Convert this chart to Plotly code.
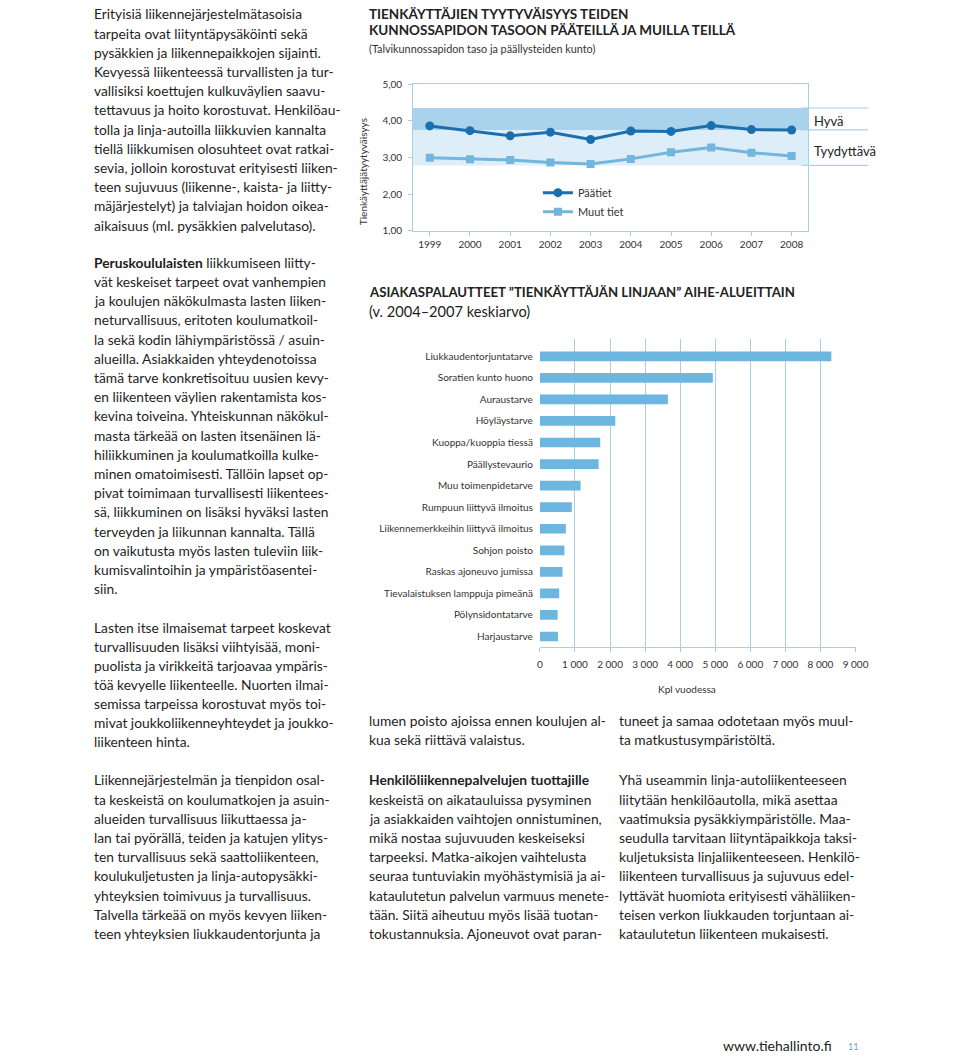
import plotly.graph_objects as go

W, H = 960, 1059
def px(x): return x / W
def py(y): return 1 - y / H

FONT = "Lato"
TXT = "#1e1e1e"

# ---------------- data: line chart ----------------
years = [1999, 2000, 2001, 2002, 2003, 2004, 2005, 2006, 2007, 2008]
paatiet = [3.86, 3.73, 3.59, 3.69, 3.49, 3.72, 3.71, 3.87, 3.76, 3.75]
muut_tiet = [2.99, 2.95, 2.93, 2.86, 2.82, 2.96, 3.14, 3.27, 3.13, 3.04]
y_ticks = [1, 2, 3, 4, 5]
y_ticktext = ["1,00", "2,00", "3,00", "4,00", "5,00"]
band_hyva = (3.75, 4.35)
band_tyyd = (2.78, 3.75)

# ---------------- data: bar chart ----------------
categories = [
    "Liukkaudentorjuntatarve", "Soratien kunto huono", "Auraustarve", "Höyläystarve",
    "Kuoppa/kuoppia tiessä", "Päällystevaurio", "Muu toimenpidetarve",
    "Rumpuun liittyvä ilmoitus", "Liikennemerkkeihin liittyvä ilmoitus", "Sohjon poisto",
    "Raskas ajoneuvo jumissa", "Tievalaistuksen lamppuja pimeänä", "Pölynsidontatarve",
    "Harjaustarve",
]
counts = [8310, 4930, 3650, 2150, 1720, 1675, 1160, 910, 740, 700, 645, 550, 505, 515]
x_ticks = [0, 1000, 2000, 3000, 4000, 5000, 6000, 7000, 8000, 9000]
x_ticktext = ["0", "1 000", "2 000", "3 000", "4 000", "5 000", "6 000", "7 000", "8 000", "9 000"]

DARK = "#1b6fae"
LIGHT = "#72b5dd"
BAR = "#6cb6df"
GRID = "#a9cfe2"

fig = go.Figure()

fig.add_trace(go.Scatter(
    x=years, y=paatiet, name="Päätiet", mode="lines+markers",
    line=dict(color=DARK, width=3), marker=dict(symbol="circle", size=9, color=DARK),
    xaxis="x", yaxis="y"))
fig.add_trace(go.Scatter(
    x=years, y=muut_tiet, name="Muut tiet", mode="lines+markers",
    line=dict(color=LIGHT, width=3), marker=dict(symbol="square", size=8, color=LIGHT),
    xaxis="x", yaxis="y"))

fig.add_trace(go.Bar(
    x=counts, y=categories, orientation="h", marker=dict(color=BAR, line=dict(width=0)),
    width=0.45, showlegend=False, xaxis="x2", yaxis="y2"))

shapes = [
    dict(type="rect", xref="paper", yref="y", x0=px(417), x1=px(819),
         y0=band_tyyd[0], y1=band_tyyd[1], fillcolor="#deeef9", line=dict(width=0), layer="below"),
    dict(type="rect", xref="paper", yref="y", x0=px(417), x1=px(819),
         y0=band_hyva[0], y1=band_hyva[1], fillcolor="#a9d2ec", line=dict(width=0), layer="below"),
]
for v in [band_hyva[1], band_hyva[0], band_tyyd[0]]:
    shapes.append(dict(type="line", xref="paper", yref="y", x0=px(812), x1=px(880),
                       y0=v, y1=v, line=dict(color="#a8d2e6", width=1.2)))

ann = []
def add(text, x, y, size=13.8, color=TXT, xanchor="left", family=FONT, **kw):
    ann.append(dict(text=text, x=px(x), y=py(y), xref="paper", yref="paper",
                    xanchor=xanchor, yanchor="middle", showarrow=False,
                    font=dict(family=family, size=size, color=color), **kw))

def para(lines, x, y0, step=19.4):
    for i, t in enumerate(lines):
        add(t, x, y0 + i * step)

para([
    "Erityisiä liikennejärjestelmätasoisia",
    "tarpeita ovat liityntäpysäköinti sekä",
    "pysäkkien ja liikennepaikkojen sijainti.",
    "Kevyessä liikenteessä turvallisten ja tur-",
    "vallisiksi koettujen kulkuväylien saavu-",
    "tettavuus ja hoito korostuvat. Henkilöau-",
    "tolla ja linja-autoilla liikkuvien kannalta",
    "tiellä liikkumisen olosuhteet ovat ratkai-",
    "sevia, jolloin korostuvat erityisesti liiken-",
    "teen sujuvuus (liikenne-, kaista- ja liitty-",
    "mäjärjestelyt) ja talviajan hoidon oikea-",
    "aikaisuus (ml. pysäkkien palvelutaso).",
], 91, 8)
para([
    "<b>Peruskoululaisten</b> liikkumiseen liitty-",
    "vät keskeiset tarpeet ovat vanhempien",
    "ja koulujen näkökulmasta lasten liiken-",
    "neturvallisuus, eritoten koulumatkoil-",
    "la sekä kodin lähiympäristössä / asuin-",
    "alueilla. Asiakkaiden yhteydenotoissa",
    "tämä tarve konkretisoituu uusien kevy-",
    "en liikenteen väylien rakentamista kos-",
    "kevina toiveina. Yhteiskunnan näkökul-",
    "masta tärkeää on lasten itsenäinen lä-",
    "hiliikkuminen ja koulumatkoilla kulke-",
    "minen omatoimisesti. Tällöin lapset op-",
    "pivat toimimaan turvallisesti liikentees-",
    "sä, liikkuminen on lisäksi hyväksi lasten",
    "terveyden ja liikunnan kannalta. Tällä",
    "on vaikutusta myös lasten tuleviin liik-",
    "kumisvalintoihin ja ympäristöasentei-",
    "siin.",
], 91, 259)
para([
    "Lasten itse ilmaisemat tarpeet koskevat",
    "turvallisuuden lisäksi viihtyisää, moni-",
    "puolista ja virikkeitä tarjoavaa ympäris-",
    "töä kevyelle liikenteelle. Nuorten ilmai-",
    "semissa tarpeissa korostuvat myös toi-",
    "mivat joukkoliikenneyhteydet ja joukko-",
    "liikenteen hinta.",
], 91, 628, 19.2)
para([
    "Liikennejärjestelmän ja tienpidon osal-",
    "ta keskeistä on koulumatkojen ja asuin-",
    "alueiden turvallisuus liikuttaessa ja-",
    "lan tai pyörällä, teiden ja katujen ylitys-",
    "ten turvallisuus sekä saattoliikenteen,",
    "koulukuljetusten ja linja-autopysäkki-",
    "yhteyksien toimivuus ja turvallisuus.",
    "Talvella tärkeää on myös kevyen liiken-",
    "teen yhteyksien liukkaudentorjunta ja",
], 91, 782)
para([
    "lumen poisto ajoissa ennen koulujen al-",
    "kua sekä riittävä valaistus.",
], 370, 722)
para([
    "<b>Henkilöliikennepalvelujen tuottajille</b>",
    "keskeistä on aikatauluissa pysyminen",
    "ja asiakkaiden vaihtojen onnistuminen,",
    "mikä nostaa sujuvuuden keskeiseksi",
    "tarpeeksi. Matka-aikojen vaihtelusta",
    "seuraa tuntuviakin myöhästymisiä ja ai-",
    "kataulutetun palvelun varmuus menete-",
    "tään. Siitä aiheutuu myös lisää tuotan-",
    "tokustannuksia. Ajoneuvot ovat paran-",
], 370, 782)
para([
    "tuneet ja samaa odotetaan myös muul-",
    "ta matkustusympäristöltä.",
], 624, 722)
para([
    "Yhä useammin linja-autoliikenteeseen",
    "liitytään henkilöautolla, mikä asettaa",
    "vaatimuksia pysäkkiympäristölle. Maa-",
    "seudulla tarvitaan liityntäpaikkoja taksi-",
    "kuljetuksista linjaliikenteeseen. Henkilö-",
    "liikenteen turvallisuus ja sujuvuus edel-",
    "lyttävät huomiota erityisesti vähäliiken-",
    "teisen verkon liukkauden torjuntaan ai-",
    "kataulutetun liikenteen mukaisesti.",
], 624, 782)

# chart titles
add("<b>TIENKÄYTTÄJIEN TYYTYVÄISYYS TEIDEN</b>", 370, 8.5, size=13.5, color="#222")
add("<b>KUNNOSSAPIDON TASOON PÄÄTEILLÄ JA MUILLA TEILLÄ</b>", 370, 24.5, size=13.5, color="#222")
add("(Talvikunnossapidon taso ja päällysteiden kunto)", 370, 43, size=10.8, color="#333")
add("Tienkäyttäjätyytyväisyys", 366, 167, size=10, color="#333", xanchor="center", textangle=-90)
add("Hyvä", 823, 116, size=13, color="#222")
add("Tyydyttävä", 823, 147, size=13, color="#222")

add("<b>ASIAKASPALAUTTEET ”TIENKÄYTTÄJÄN LINJAAN” AIHE-ALUEITTAIN</b>", 370, 289, size=13.2, color="#222")
add("(v. 2004–2007 keskiarvo)", 370, 309, size=14.6, color="#222")
add("Kpl vuodessa", 696, 690, size=10, color="#333", xanchor="center")

add("www.tiehallinto.fi", 845, 1050, size=14, color="#222", xanchor="right")
add("11", 857, 1051, size=9, color="#5aaad2")

tickfont = dict(family=FONT, size=10, color="#333")

fig.update_layout(
    width=W, height=H, margin=dict(l=0, r=0, t=0, b=0),
    paper_bgcolor="white", plot_bgcolor="rgba(0,0,0,0)",
    font=dict(family=FONT, color=TXT),
    shapes=shapes, annotations=ann, bargap=0.5,
    legend=dict(x=px(544), y=py(174), xanchor="left", yanchor="top",
                bgcolor="rgba(0,0,0,0)", font=dict(family=FONT, size=11, color="#333"),
                itemwidth=30, tracegroupgap=0),
    xaxis=dict(domain=[px(417), px(819)], range=[1998.584, 2008.416],
               tickvals=years, ticks="outside", ticklen=4, tickcolor=GRID,
               showline=True, linecolor=GRID, mirror=True, showgrid=False, zeroline=False,
               tickfont=tickfont, anchor="y", fixedrange=True),
    yaxis=dict(domain=[py(227), py(79)], range=[1, 5], tickvals=y_ticks, ticktext=y_ticktext,
               ticks="outside", ticklen=4, tickcolor=GRID,
               showline=True, linecolor=GRID, mirror=True, showgrid=False, zeroline=False,
               tickfont=tickfont, anchor="x", ticklabelstandoff=4),
    xaxis2=dict(domain=[px(546), px(867)], range=[0, 9000], tickvals=x_ticks, ticktext=x_ticktext,
                ticks="outside", ticklen=4, tickcolor=GRID, showline=True, linecolor=GRID,
                showgrid=True, gridcolor=GRID, gridwidth=1, zeroline=False,
                tickfont=tickfont, anchor="y2", ticklabelstandoff=4),
    yaxis2=dict(domain=[py(648), py(337)], type="category", range=[13.5, -0.78],
                showline=False, ticks="", showgrid=False, zeroline=False,
                tickfont=dict(family=FONT, size=10, color="#333"), anchor="x2",
                ticklabelstandoff=6),
)

fig.write_html("out.html", config={"displayModeBar": False},
               post_script="document.body.style.margin='0';document.body.style.overflow='hidden';")
